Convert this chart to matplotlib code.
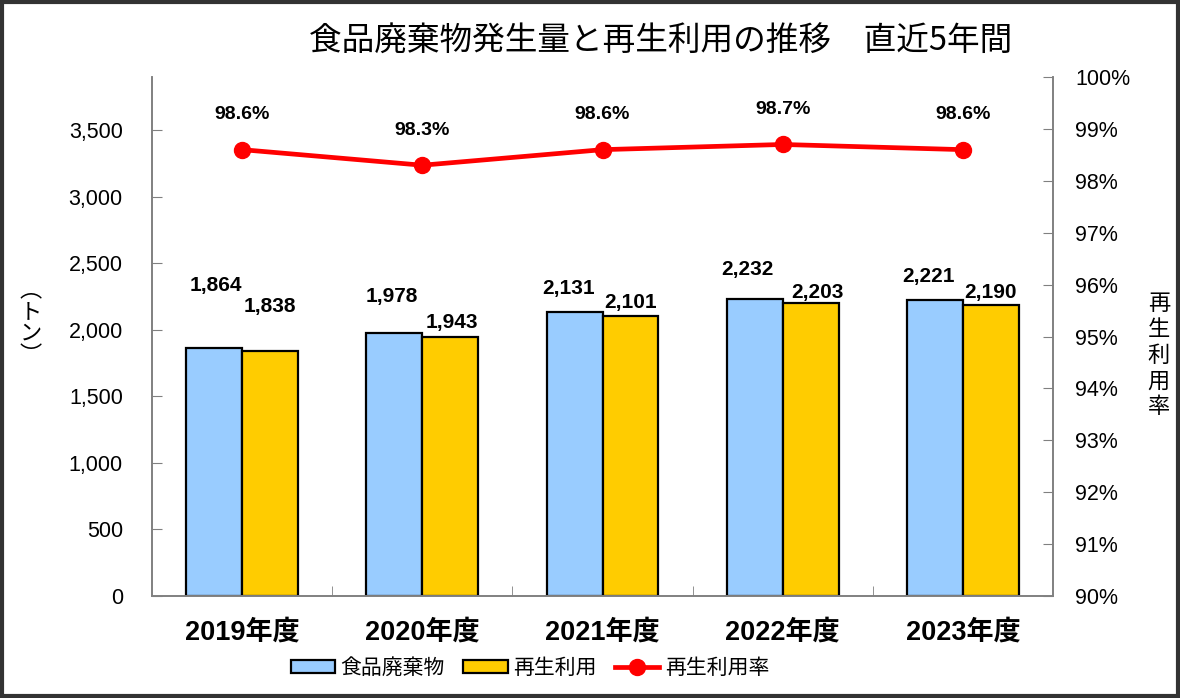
import matplotlib.pyplot as plt
import numpy as np
from matplotlib.patches import Rectangle
from matplotlib.lines import Line2D

plt.rcParams['font.family'] = ['Liberation Sans', 'Noto Sans CJK JP', 'DejaVu Sans']

years = ['2019年度', '2020年度', '2021年度', '2022年度', '2023年度']
waste = [1864, 1978, 2131, 2232, 2221]
recycled = [1838, 1943, 2101, 2203, 2190]
rate = [98.6, 98.3, 98.6, 98.7, 98.6]

# label offsets (points) from each bar top, picked by eye
waste_off = [(1, 45), (-1.5, 26), (-4, 17), (-5, 21), (-5, 17)]
rec_off = [(0, 32), (1.5, 11), (0, 10), (5, 7.6), (0, 9)]

fig = plt.figure(figsize=(11.8, 6.98), dpi=100)
ax = fig.add_axes([0.1288, 0.1461, 0.7636, 0.7436])
ax2 = ax.twinx()

x = np.arange(len(years))
w = 0.31
ax.bar(x - w / 2, waste, w, color='#99CCFF', edgecolor='black', linewidth=1.6, zorder=2)
ax.bar(x + w / 2, recycled, w, color='#FFCC00', edgecolor='black', linewidth=1.6, zorder=2)

lab_font = ['Liberation Sans Narrow', 'Liberation Sans']
for i in range(len(x)):
    ax.annotate(f'{waste[i]:,}', (x[i] - w / 2, waste[i]), xytext=waste_off[i],
                textcoords='offset points', ha='center', va='center',
                fontsize=15, fontweight='bold', family=lab_font)
    ax.annotate(f'{recycled[i]:,}', (x[i] + w / 2, recycled[i]), xytext=rec_off[i],
                textcoords='offset points', ha='center', va='center',
                fontsize=15, fontweight='bold', family=lab_font)

ax.set_xlim(-0.5, 4.5)
ax.set_ylim(0, 3900)
ax.set_yticks(range(0, 3501, 500))
ax.set_yticklabels([f'{v:,}' for v in range(0, 3501, 500)])
ax.set_xticks(x)
ax.set_xticklabels(years, fontsize=19.5, fontweight='bold',
                   family=['Liberation Sans', 'Noto Sans CJK JP'])
ax.set_xticks(x[:-1] + 0.5, minor=True)
ax.tick_params(axis='x', which='major', length=0, pad=17)
ax.tick_params(axis='x', which='minor', direction='in', length=7, color='#808080')
ax.tick_params(axis='y', direction='in', length=7, color='#808080', labelsize=15.5, pad=21)

ax2.plot(x, rate, color='#FF0000', linewidth=3.4, marker='o', markersize=11.5, zorder=3)
for i in range(len(x)):
    ax2.annotate(f'{rate[i]:.1f}%', (x[i], rate[i]), xytext=(0, 25), textcoords='offset points',
                 ha='center', va='center', fontsize=14, fontweight='bold', family=lab_font)
ax2.set_ylim(90, 100)
ax2.set_yticks(range(90, 101))
ax2.set_yticklabels([f'{v}%' for v in range(90, 101)])
ax2.tick_params(axis='y', direction='in', length=7, color='#808080', labelsize=15.5, pad=16)

for a in (ax, ax2):
    a.spines['top'].set_visible(False)
    for s in ('left', 'right', 'bottom'):
        a.spines[s].set_color('#808080')
        a.spines[s].set_linewidth(1.2)

fig.text(0.56, 0.94, '食品廃棄物発生量と再生利用の推移　直近5年間', ha='center', va='center',
         fontsize=23.5, family=['Noto Sans CJK JP', 'DejaVu Sans'])
fig.text(0.026, 0.538, '︵\nト\nン\n︶', ha='center', va='center', fontsize=16,
         linespacing=0.95, family=['Noto Sans CJK JP'])
fig.text(0.982, 0.491, '再\n生\n利\n用\n率', ha='center', va='center', fontsize=16,
         linespacing=1.15, family=['Noto Sans CJK JP'])

handles = [Rectangle((0, 0), 1, 1, facecolor='#99CCFF', edgecolor='black', linewidth=1.6),
           Rectangle((0, 0), 1, 1, facecolor='#FFCC00', edgecolor='black', linewidth=1.6),
           Line2D([], [], color='#FF0000', linewidth=3.4, marker='o', markersize=11.5)]
fig.legend(handles, ['食品廃棄物', '再生利用', '再生利用率'], loc='center', bbox_to_anchor=(0.449, 0.043),
           ncol=3, frameon=False, handlelength=2.15, handleheight=0.55, handletextpad=0.25,
           columnspacing=0.87, prop={'family': ['Noto Sans CJK JP'], 'size': 15})

fig.patches.append(Rectangle((0.0015, 0.0025), 0.997, 0.995, transform=fig.transFigure,
                             fill=False, edgecolor='#333333', linewidth=3))

fig.savefig('out.png', dpi=100)
